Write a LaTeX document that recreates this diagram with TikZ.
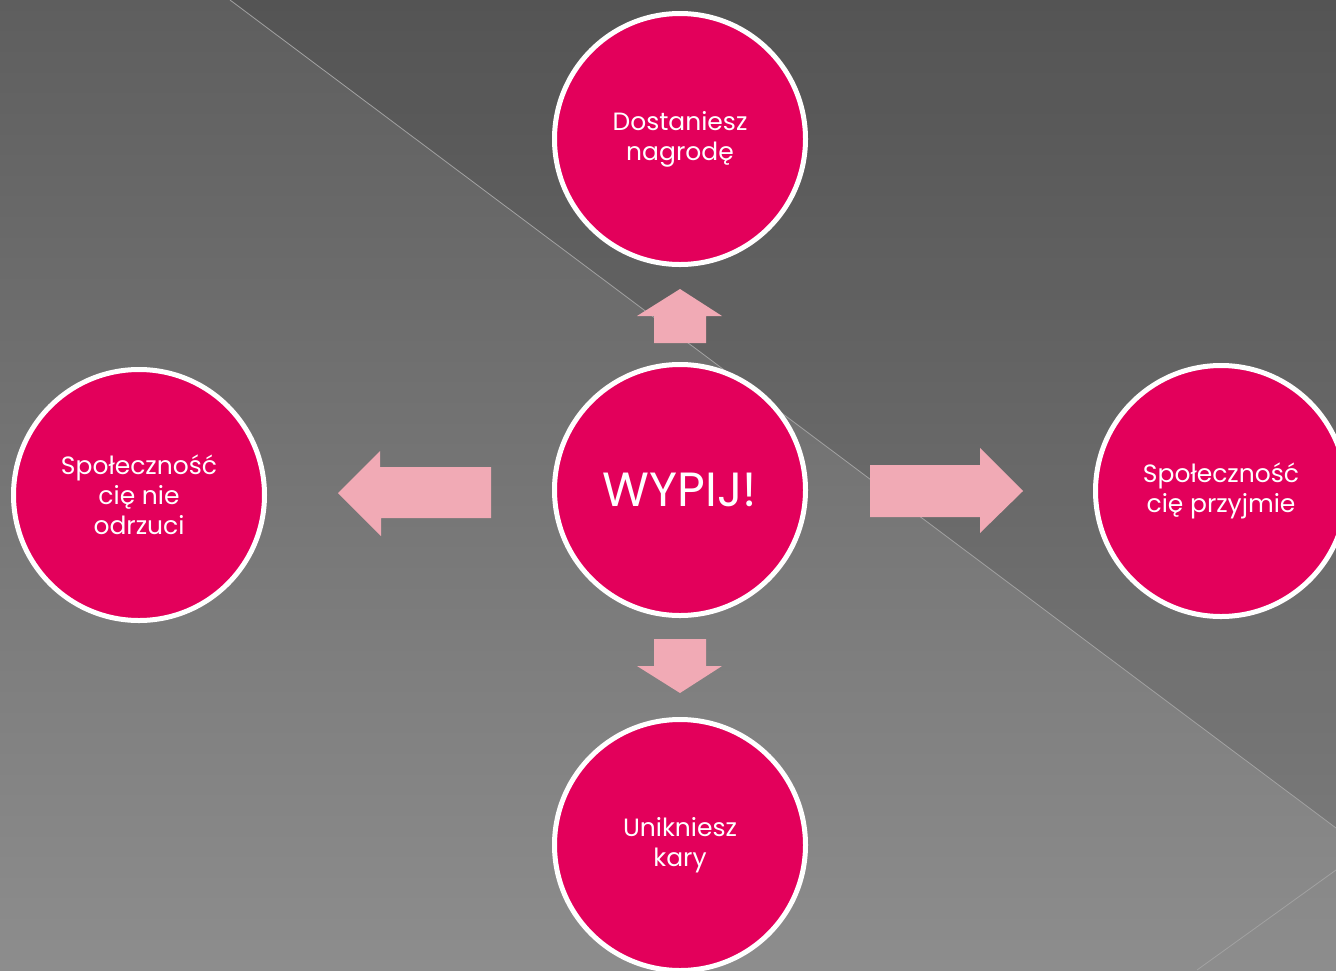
\documentclass[tikz,border=0pt]{standalone}
\usepackage{fontspec}
\setmainfont{Poppins}
\definecolor{fondoarriba}{HTML}{5E5E5E}
\definecolor{fondoabajo}{HTML}{8D8D8D}
\definecolor{rosa}{HTML}{E3005B}
\definecolor{flecha}{HTML}{F1AAB5}
\definecolor{raya}{HTML}{A2A2A2}
\tikzset{
  circulo/.style={circle, fill=rosa, draw=white, line width=5pt, minimum size=251pt,
    inner sep=0pt, text=white, align=center, font=\fontsize{25}{30}\selectfont},
}
\begin{document}
\begin{tikzpicture}[x=1pt, y=-1pt]
            \clip (0,0) rectangle (1336,970);
            % Fondo degradado
            \shade[top color=fondoarriba, bottom color=fondoabajo] (0,0) rectangle (1336,970);
            \fill[black, opacity=0.1] (230,0) -- (1336,828) -- (1336,0) -- cycle;
            \draw[raya, line width=0.8pt] (230,0) -- (1336,828);
            \draw[raya, line width=0.8pt] (1197,970) -- (1336,870);

            % Flechas
            \fill[flecha] (654,343) -- (654,316) -- (637,316) -- (680,289) -- (722,316) -- (706,316) -- (706,343) -- cycle;
            \fill[flecha] (654,639) -- (654,666) -- (637,666) -- (680,693) -- (722,666) -- (706,666) -- (706,639) -- cycle;
            \fill[flecha] (491,467) -- (380,467) -- (380,451) -- (338,493) -- (381,536) -- (381,518) -- (491,518) -- cycle;
            \fill[flecha] (870,465) -- (980,465) -- (980,448) -- (1023,491) -- (980,533) -- (980,517) -- (870,517) -- cycle;

            % Circulos
            \node[circulo] (centro) at (680,490) {\fontsize{48}{56}\selectfont WYPIJ!};
            \node[circulo] (arriba) at (680,139) {Dostaniesz\\nagrodę};
            \node[circulo] (abajo) at (680,845) {Unikniesz\\kary};
            \node[circulo] (izquierda) at (139,495) {Społeczność\\cię nie\\odrzuci};
            \node[circulo] (derecha) at (1221,491) {Społeczność\\cię przyjmie};
\end{tikzpicture}
\end{document}
